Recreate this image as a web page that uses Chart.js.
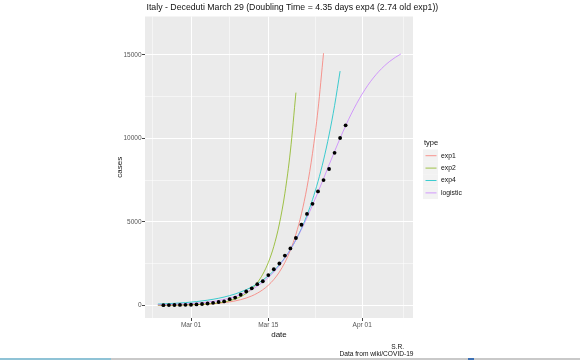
<!DOCTYPE html>
<html>
<head>
<meta charset="utf-8">
<script src="https://cdn.jsdelivr.net/npm/chart.js@4.4.0/dist/chart.umd.min.js"></script>
<style>
  html, body { margin: 0; padding: 0; background: #fff; }
  #wrap { position: relative; width: 580px; height: 360px; overflow: hidden; }
  #strip { position: absolute; left: 0; bottom: 0; width: 580px; height: 2px;
    background: linear-gradient(to right, #8fc3d6 0, #8fc3d6 111px, #c9c9c9 111px, #c9c9c9 468px, #3b6fb3 468px, #3b6fb3 474px, #c9c9c9 474px); }
</style>
</head>
<body>
<div id="wrap">
  <canvas id="chartContainer" width="580" height="360"></canvas>
  <div id="strip"></div>
</div>
<script>
const titleText = "Italy - Deceduti March 29 (Doubling Time = 4.35 days exp4 (2.74 old exp1))";
const captionLines = ["S.R.", "Data from wiki/COVID-19"];

// day 0 = Mar 01
const originDate = "2020-03-01";
const deathsStart = "2020-02-25";
const fitStart = "2020-02-24";

// cumulative deaths, one per day from Feb 25
const deaths = [10, 12, 17, 21, 29,
  34, 52, 79, 107, 148, 197, 233, 366, 463, 631,
  827, 1016, 1266, 1441, 1809, 2158, 2503, 2978, 3405, 4032,
  4825, 5476, 6077, 6820, 7503, 8165, 9134, 10023, 10779];

// fitted curves, one value per day from Feb 24
const exp1 = [7.5, 9.6, 12.4, 16, 21, 27,
  34, 44, 57, 74, 95, 123, 158, 204, 262, 338, 435,
  561, 723, 931, 1199, 1545, 1990, 2564, 3303, 4255, 5482,
  7062, 9098, 11721, 15100];
const exp2 = [4, 6, 8, 11, 15, 21,
  29, 40, 55, 75, 104, 143, 197, 272, 375, 516, 711,
  980, 1350, 1861, 2564, 3533, 4869, 6709, 9245, 12740];
const exp4 = [73, 86, 101, 118, 138, 162,
  190, 223, 262, 307, 360, 422, 495, 580, 680, 798, 935,
  1097, 1286, 1508, 1769, 2074, 2433, 2853, 3345, 3923, 4600,
  5395, 6326, 7419, 8700, 10202, 11964, 14030];
const logistic = [31, 38, 46, 57, 70, 85,
  105, 128, 157, 193, 236, 288, 353, 431, 526, 640, 779,
  946, 1145, 1384, 1666, 1997, 2384, 2830, 3340, 3914, 4550,
  5248, 5995, 6780, 7590, 8410, 9220, 10006, 10752, 11450, 12086,
  12659, 13170, 13616, 14003, 14334, 14616, 14854, 15054];

const seriesNames = ["exp1", "exp2", "exp4", "logistic"];
const seriesColors = ["rgba(248,118,109,0.75)", "rgba(124,174,0,0.7)", "rgba(0,191,196,0.75)", "rgba(199,124,255,0.75)"];

const xTickDays = [0, 14, 31];
const xTickLabels = ["Mar 01", "Mar 15", "Apr 01"];
const xMinorDays = [-7, 7, 22.5, 38.5];
const yTicks = [0, 5000, 10000, 15000];
const yMinor = [2500, 7500, 12500];

const FONT = "'Liberation Sans', Arial, sans-serif";

function dayOf(d) {
    return Math.round((Date.parse(d) - Date.parse(originDate)) / 86400000);
}

function toPoints(values, start) {
    const d0 = dayOf(start);
    return values.map((v, i) => ({ x: d0 + i, y: v }));
}

function isMajor(list, v) {
    return list.some(t => Math.abs(t - v) < 1e-6);
}

const panelBg = {
    id: "panelBg",
    beforeDraw(chart) {
        const a = chart.chartArea;
        const ctx = chart.ctx;
        ctx.save();
        ctx.fillStyle = "#EBEBEB";
        ctx.fillRect(a.left, a.top, a.right - a.left, a.bottom - a.top);
        ctx.restore();
    }
};

const extras = {
    id: "extras",
    afterDraw(chart) {
        const a = chart.chartArea;
        const ctx = chart.ctx;
        ctx.save();
        // title
        ctx.fillStyle = "#111";
        ctx.font = "8.75px " + FONT;
        ctx.textBaseline = "middle";
        ctx.textAlign = "left";
        ctx.fillText(titleText, a.left + 1.5, 8);

        // legend
        const lx = 424;
        ctx.font = "7.5px " + FONT;
        ctx.fillText("type", lx, 142.5);
        ctx.font = "6.8px " + FONT;
        seriesNames.forEach((name, i) => {
            const cy = 155.7 + i * 12.4;
            ctx.fillStyle = "#F2F2F2";
            ctx.fillRect(lx - 1, cy - 6.2, 15, 12.4);
            ctx.strokeStyle = seriesColors[i];
            ctx.lineWidth = 1;
            ctx.beginPath();
            ctx.moveTo(lx + 1.5, cy);
            ctx.lineTo(lx + 12.5, cy);
            ctx.stroke();
            ctx.fillStyle = "#111";
            ctx.fillText(name, lx + 17, cy);
        });

        // caption
        ctx.textAlign = "right";
        ctx.font = "6.6px " + FONT;
        ctx.fillText(captionLines[0], a.right - 9, 347);
        ctx.fillText(captionLines[1], a.right + 0.5, 354.5);
        ctx.restore();
    }
};

const lineSets = [exp1, exp2, exp4, logistic].map((vals, i) => ({
    label: seriesNames[i],
    data: toPoints(vals, fitStart),
    showLine: true,
    borderColor: seriesColors[i],
    backgroundColor: seriesColors[i],
    borderWidth: 1,
    pointRadius: 0,
    cubicInterpolationMode: "monotone",
    order: 4 - i + 1
}));

const chart = new Chart("chartContainer", {
    type: "scatter",
    data: {
        datasets: [{
            label: "deaths",
            data: toPoints(deaths, deathsStart),
            showLine: false,
            pointRadius: 1.9,
            pointBackgroundColor: "#000",
            pointBorderWidth: 0,
            order: 0
        }].concat(lineSets)
    },
    options: {
        responsive: false,
        animation: false,
        devicePixelRatio: 1,
        layout: { padding: { left: 100, right: 167, top: 16.5, bottom: 0 } },
        plugins: {
            legend: { display: false },
            title: { display: false },
            tooltip: { enabled: false }
        },
        scales: {
            x: {
                type: "linear",
                min: -8.33,
                max: 40.2,
                afterBuildTicks: (scale) => {
                    scale.ticks = xTickDays.concat(xMinorDays).sort((p, q) => p - q).map(v => ({ value: v }));
                },
                afterFit: (scale) => { scale.height = 42; },
                ticks: {
                    autoSkip: false,
                    maxRotation: 0,
                    padding: 0.5,
                    color: "#555555",
                    font: { family: FONT, size: 6.5 },
                    callback: (v) => {
                        const k = xTickDays.indexOf(v);
                        return k >= 0 ? xTickLabels[k] : "";
                    }
                },
                grid: {
                    color: "#FFFFFF",
                    lineWidth: (c) => (c.tick && isMajor(xTickDays, c.tick.value)) ? 1 : 0.5,
                    tickColor: (c) => (c.tick && isMajor(xTickDays, c.tick.value)) ? "#444444" : "rgba(0,0,0,0)",
                    tickLength: 3,
                    drawTicks: true
                },
                border: { display: false },
                title: {
                    display: true,
                    text: "date",
                    color: "#111",
                    font: { family: FONT, size: 8 },
                    padding: { top: 0, bottom: 20.2 }
                }
            },
            y: {
                type: "linear",
                min: -761,
                max: 17300,
                afterBuildTicks: (scale) => {
                    scale.ticks = yTicks.concat(yMinor).sort((p, q) => p - q).map(v => ({ value: v }));
                },
                afterFit: (scale) => { scale.width = 45; },
                ticks: {
                    autoSkip: false,
                    padding: 0.5,
                    color: "#555555",
                    font: { family: FONT, size: 6.5 },
                    callback: (v) => isMajor(yTicks, v) ? String(v) : ""
                },
                grid: {
                    color: "#FFFFFF",
                    lineWidth: (c) => (c.tick && isMajor(yTicks, c.tick.value)) ? 1 : 0.5,
                    tickColor: (c) => (c.tick && isMajor(yTicks, c.tick.value)) ? "#444444" : "rgba(0,0,0,0)",
                    tickLength: 3,
                    drawTicks: true
                },
                border: { display: false },
                title: {
                    display: true,
                    text: "cases",
                    color: "#111",
                    font: { family: FONT, size: 8 },
                    padding: { top: 15.2, bottom: 0 }
                }
            }
        }
    },
    plugins: [panelBg, extras]
});
</script>
</body>
</html>
